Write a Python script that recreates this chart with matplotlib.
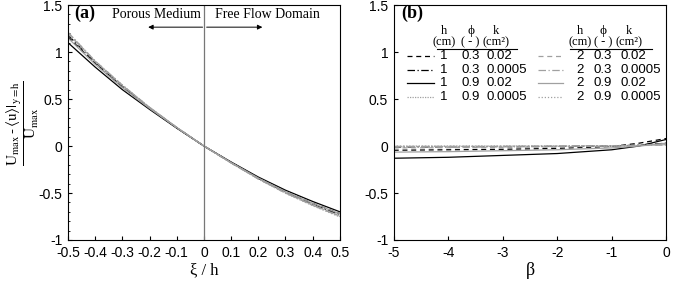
import matplotlib
matplotlib.use("Agg")
import matplotlib.pyplot as plt
from matplotlib.lines import Line2D
from matplotlib.ticker import MultipleLocator

plt.rcParams["font.family"] = ["Liberation Sans", "DejaVu Sans"]
plt.rcParams["mathtext.fontset"] = "stix"

SERIF = ["Liberation Serif", "DejaVu Serif"]
GRAY = "#a0a0a0"

# panel (a): xi / h
xi = [-0.5, -0.4, -0.3, -0.2, -0.1, 0.0, 0.1, 0.2, 0.3, 0.4, 0.5]
xi_labels = ["-0.5", "-0.4", "-0.3", "-0.2", "-0.1", "0", "0.1", "0.2", "0.3", "0.4", "0.5"]
# panel (b): beta
beta = [-5, -4, -3, -2, -1, -0.5, 0]
beta_ticks = [-5, -4, -3, -2, -1, 0]
y_ticks = [-1, -0.5, 0, 0.5, 1, 1.5]
y_labels = ["-1", "-0.5", "0", "0.5", "1", "1.5"]

# cases: (h, phi, k)
cases = [
    ("1", "0.3", "0.02"),
    ("1", "0.3", "0.0005"),
    ("1", "0.9", "0.02"),
    ("1", "0.9", "0.0005"),
    ("2", "0.3", "0.02"),
    ("2", "0.3", "0.0005"),
    ("2", "0.9", "0.02"),
    ("2", "0.9", "0.0005"),
]

curves_a = [
    [1.16, 0.88, 0.63, 0.40, 0.195, 0, -0.175, -0.34, -0.49, -0.61, -0.72],
    [1.18, 0.89, 0.635, 0.405, 0.195, 0, -0.177, -0.345, -0.49, -0.62, -0.73],
    [1.10, 0.84, 0.60, 0.39, 0.19, 0, -0.17, -0.33, -0.47, -0.59, -0.70],
    [1.19, 0.895, 0.64, 0.41, 0.197, 0, -0.178, -0.345, -0.495, -0.625, -0.74],
    [1.20, 0.90, 0.645, 0.41, 0.198, 0, -0.18, -0.35, -0.50, -0.63, -0.745],
    [1.21, 0.905, 0.648, 0.412, 0.198, 0, -0.18, -0.35, -0.50, -0.63, -0.75],
    [1.15, 0.87, 0.62, 0.40, 0.195, 0, -0.175, -0.34, -0.485, -0.61, -0.72],
    [1.21, 0.905, 0.65, 0.413, 0.199, 0, -0.181, -0.352, -0.503, -0.635, -0.755],
]

curves_b = [
    [-0.045, -0.04, -0.035, -0.025, -0.005, 0.03, 0.08],
    [-0.01, -0.008, -0.006, -0.004, 0.0, 0.01, 0.03],
    [-0.13, -0.12, -0.10, -0.08, -0.04, 0.0, 0.07],
    [-0.005, -0.004, -0.003, -0.002, 0.0, 0.005, 0.015],
    [-0.02, -0.018, -0.015, -0.01, 0.0, 0.01, 0.02],
    [-0.005, -0.004, -0.003, -0.002, 0.0, 0.005, 0.01],
    [-0.065, -0.06, -0.05, -0.04, -0.02, 0.0, 0.03],
    [0.0, 0.0, 0.0, 0.002, 0.004, 0.008, 0.015],
]

styles = [
    dict(color="black", ls=(0, (4, 3))),
    dict(color="black", ls=(0, (6, 2, 1, 2))),
    dict(color="black", ls="-"),
    dict(color=GRAY, ls=(0, (1, 1))),
    dict(color=GRAY, ls=(0, (4, 3))),
    dict(color=GRAY, ls=(0, (6, 2, 1, 2))),
    dict(color=GRAY, ls="-"),
    dict(color=GRAY, ls=(0, (1, 1.5))),
]

fig = plt.figure(figsize=(6.73, 2.82), dpi=100)
ax_a = fig.add_axes([0.101, 0.149, 0.404, 0.833])
ax_b = fig.add_axes([0.585, 0.149, 0.405, 0.833])

for ax in (ax_a, ax_b):
    ax.tick_params(direction="in", labelsize=10, length=3, pad=4)
    ax.set_ylim(-1, 1.5)
    ax.set_yticks(y_ticks)
    ax.set_yticklabels(y_labels)
    for sp in ax.spines.values():
        sp.set_linewidth(0.8)

# ---- panel (a)
for ys, st in zip(curves_a, styles):
    ax_a.plot(xi, ys, lw=0.9, **st)
ax_a.axvline(0, color="#777777", lw=0.9)
ax_a.set_xlim(-0.5, 0.5)
ax_a.set_xticks(xi)
ax_a.set_xticklabels(xi_labels)
ax_a.yaxis.set_minor_locator(MultipleLocator(0.1))
ax_a.tick_params(which="minor", direction="in", length=1.5)
ax_a.set_xlabel("\u03be / h", family=SERIF, fontsize=12, labelpad=2)
ax_a.set_ylabel(r"$\dfrac{\mathrm{U_{max}}\,\text{-}\,\langle \mathrm{u}\rangle|_{\mathrm{y=h}}}{\mathrm{U_{max}}}$",
                fontsize=11)
ax_a.yaxis.set_label_coords(-0.1, 0.5)
ax_a.text(-0.478, 1.36, "(a)", family=SERIF, fontsize=13, fontweight="bold")
ax_a.text(-0.175, 1.36, "Porous Medium", family=SERIF, fontsize=10, ha="center")
ax_a.text(0.235, 1.36, "Free Flow Domain", family=SERIF, fontsize=10, ha="center")
ax_a.annotate("", xy=(-0.205, 1.265), xytext=(-0.005, 1.265),
              arrowprops=dict(arrowstyle="-|>", color="black", lw=0.7,
                              mutation_scale=7, shrinkA=0, shrinkB=0))
ax_a.annotate("", xy=(0.215, 1.265), xytext=(0.01, 1.265),
              arrowprops=dict(arrowstyle="-|>", color="black", lw=0.7,
                              mutation_scale=7, shrinkA=0, shrinkB=0))

# ---- panel (b)
for ys, st in zip(curves_b, styles):
    ax_b.plot(beta, ys, lw=0.9, **st)
ax_b.set_xlim(-5, 0)
ax_b.set_xticks(beta_ticks)
ax_b.set_xticklabels([str(t) for t in beta_ticks])
ax_b.set_xlabel("\u03b2", family=SERIF, fontsize=13, labelpad=2)
ax_b.text(-4.87, 1.36, "(b)", family=SERIF, fontsize=13, fontweight="bold")

# hand-made legend table
row_y = [0.783, 0.723, 0.668, 0.609]
cols = [
    dict(line=(0.048, 0.147), h=0.184, phi=0.282, k=0.342, kc=0.375, ul=(0.158, 0.452)),
    dict(line=(0.529, 0.621), h=0.684, phi=0.768, k=0.832, kc=0.862, ul=(0.647, 0.949)),
]
tr = ax_b.transAxes
for c, col in enumerate(cols):
    ax_b.text(col["h"], 0.888, "h", family=SERIF, fontsize=9, ha="center", va="center", transform=tr)
    ax_b.text(col["h"], 0.843, "(cm)", family=SERIF, fontsize=9, ha="center", va="center", transform=tr)
    ax_b.text(col["phi"], 0.890, "\u03d5", family=SERIF, fontsize=9.5, ha="center", va="center", transform=tr)
    ax_b.text(col["phi"], 0.843, "( - )", family=SERIF, fontsize=9, ha="center", va="center", transform=tr)
    ax_b.text(col["kc"], 0.888, "k", family=SERIF, fontsize=9, ha="center", va="center", transform=tr)
    ax_b.text(col["kc"], 0.843, "(cm\u00b2)", family=SERIF, fontsize=9, ha="center", va="center", transform=tr)
    ax_b.add_line(Line2D(col["ul"], [0.813, 0.813], color="black", lw=0.8, transform=tr))
    for r in range(4):
        i = c * 4 + r
        h, phi, k = cases[i]
        ax_b.add_line(Line2D(col["line"], [row_y[r]] * 2, lw=0.9, transform=tr, **styles[i]))
        ax_b.text(col["h"], row_y[r], h, fontsize=9.5, ha="center", va="center", transform=tr)
        ax_b.text(col["phi"], row_y[r], phi, fontsize=9.5, ha="center", va="center", transform=tr)
        ax_b.text(col["k"], row_y[r], k, fontsize=9.5, ha="left", va="center", transform=tr)

fig.savefig("out.png", dpi=100)
